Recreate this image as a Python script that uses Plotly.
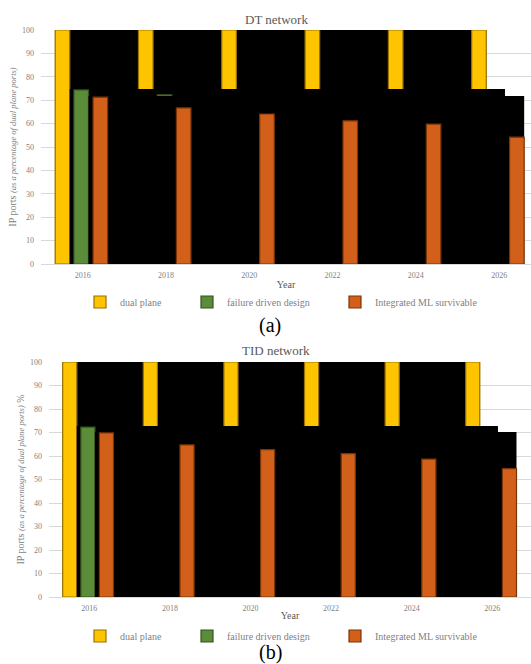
import plotly.graph_objects as go

# ---------------- data ----------------
years = ["2016", "2018", "2020", "2022", "2024", "2026"]
series_names = ["dual plane", "failure driven design", "Integrated ML survivable"]

dt_dual_plane = [100, 100, 100, 100, 100, 100]
dt_failure_driven = [74.4, 72.3, 71.0, 70.0, 69.0, 68.0]
dt_integrated_ml = [71.3, 66.7, 64.1, 61.2, 59.8, 54.2]

tid_dual_plane = [100, 100, 100, 100, 100, 100]
tid_failure_driven = [72.3, 70.0, 69.0, 68.0, 67.0, 66.0]
tid_integrated_ml = [69.8, 64.7, 62.7, 61.0, 58.7, 54.6]

# heights of the black rendering artefacts behind each series layer
dt_artefact_levels = [100, 74.8, 71.8]
tid_artefact_levels = [100, 72.8, 70.2]

# ---------------- style ----------------
W, H = 531, 664
FONT = "Liberation Serif"
fills = ["#FFC400", "#5B8C3A", "#D2601A"]
edges = ["#9A7200", "#34531E", "#7A3406"]
bar_offsets = [-0.33, -0.105, 0.125]
bar_width = 0.175

panels = [
    dict(title="DT network", label="(a)",
         data=[dt_dual_plane, dt_failure_driven, dt_integrated_ml],
         levels=dt_artefact_levels,
         left=41, top=30, bottom=264, xmax=5.382,
         ytitle="IP ports <i><span style='font-size:8.5px'>(as a percentage of dual plane ports)</span></i>",
         title_y=19, label_y=325, legend_y=302),
    dict(title="TID network", label="(b)",
         data=[tid_dual_plane, tid_failure_driven, tid_integrated_ml],
         levels=tid_artefact_levels,
         left=49, top=362, bottom=597, xmax=5.48,
         ytitle="IP ports <i><span style='font-size:8.5px'>(as a percentage of dual plane ports)</span></i> %",
         title_y=350, label_y=652, legend_y=636),
]
legend_text_x = [116, 223, 371]

fig = go.Figure()
layout = dict(
    width=W, height=H,
    margin=dict(l=0, r=0, t=0, b=0, pad=0, autoexpand=False),
    paper_bgcolor="white",
    plot_bgcolor="rgba(0,0,0,0)",
    font=dict(family=FONT, color="#7f7f7f"),
    showlegend=True,
)
shapes = []
annotations = []

k = 0
for p, pan in enumerate(panels):
    xdom = [pan["left"] / W, 1.0]
    ydom = [1 - pan["bottom"] / H, 1 - pan["top"] / H]
    main = 3 * p + 1
    for s in range(3):
        k += 1
        xa = "x" if k == 1 else f"x{k}"
        ya = "y" if k == 1 else f"y{k}"
        xkey = "xaxis" if k == 1 else f"xaxis{k}"
        ykey = "yaxis" if k == 1 else f"yaxis{k}"
        lkey = "legend" if k == 1 else f"legend{k}"
        is_main = (k == main)

        fig.add_trace(go.Bar(
            x=years, y=pan["data"][s], name=series_names[s],
            xaxis=xa, yaxis=ya,
            width=bar_width, offset=bar_offsets[s],
            marker=dict(color=fills[s], line=dict(color=edges[s], width=1.2)),
            legend=lkey, showlegend=True,
        ))

        xcfg = dict(domain=xdom, anchor=ya, type="category", automargin=False,
                    range=[-0.5, pan["xmax"]], fixedrange=True)
        ycfg = dict(domain=ydom, anchor=xa, range=[0, 100], fixedrange=True,
                    automargin=False)
        if is_main:
            xcfg.update(showgrid=False, showline=True, linecolor="#d9d9d9",
                        linewidth=1, ticks="", ticklabelstandoff=3,
                        tickfont=dict(size=8, color="#7f7f7f"),
                        title=dict(text="Year", standoff=2,
                                   font=dict(size=10, color="#595959")),
                        zeroline=False)
            ycfg.update(showgrid=True, gridcolor="#d9d9d9", gridwidth=1,
                        dtick=10, tick0=0, showline=False, zeroline=False,
                        ticks="", ticklabelstandoff=6,
                        tickfont=dict(size=8, color="#7f7f7f"),
                        title=dict(text=pan["ytitle"], standoff=3,
                                   font=dict(size=10, color="#7f7f7f")))
        else:
            xcfg.update(visible=False, showgrid=False)
            ycfg.update(visible=False, showgrid=False)
        layout[xkey] = xcfg
        layout[ykey] = ycfg

        # black artefact behind this series layer
        first = 0
        last = len(years) - 1
        if s == 0:
            x0 = first + bar_offsets[0]
        else:
            x0 = first + bar_offsets[s - 1] + bar_width
        x1 = last + bar_offsets[s] + bar_width
        shapes.append(dict(type="rect", xref=xa, yref=ya, layer="between",
                           x0=x0, x1=x1, y0=0, y1=pan["levels"][s],
                           fillcolor="black", line=dict(width=0)))

        layout[lkey] = dict(
            orientation="h", xref="container", yref="container",
            x=(legend_text_x[s] - 36) / W,
            y=1 - pan["legend_y"] / H, xanchor="left", yanchor="middle",
            bgcolor="rgba(0,0,0,0)", borderwidth=0, itemwidth=30,
            font=dict(size=10, color="#7f7f7f", family=FONT),
        )

    annotations.append(dict(text=pan["title"], x=276 / W, y=1 - pan["title_y"] / H,
                            xref="paper", yref="paper", showarrow=False,
                            xanchor="center", yanchor="middle",
                            font=dict(size=13, color="#595959", family=FONT)))
    annotations.append(dict(text=pan["label"], x=270 / W, y=1 - pan["label_y"] / H,
                            xref="paper", yref="paper", showarrow=False,
                            xanchor="center", yanchor="middle",
                            font=dict(size=20, color="black", family=FONT)))

layout["shapes"] = shapes
layout["annotations"] = annotations
fig.update_layout(**layout)
fig.write_html(
    "out.html",
    config={"displayModeBar": False},
    post_script="document.body.style.margin='0';document.body.style.overflow='hidden';",
)
